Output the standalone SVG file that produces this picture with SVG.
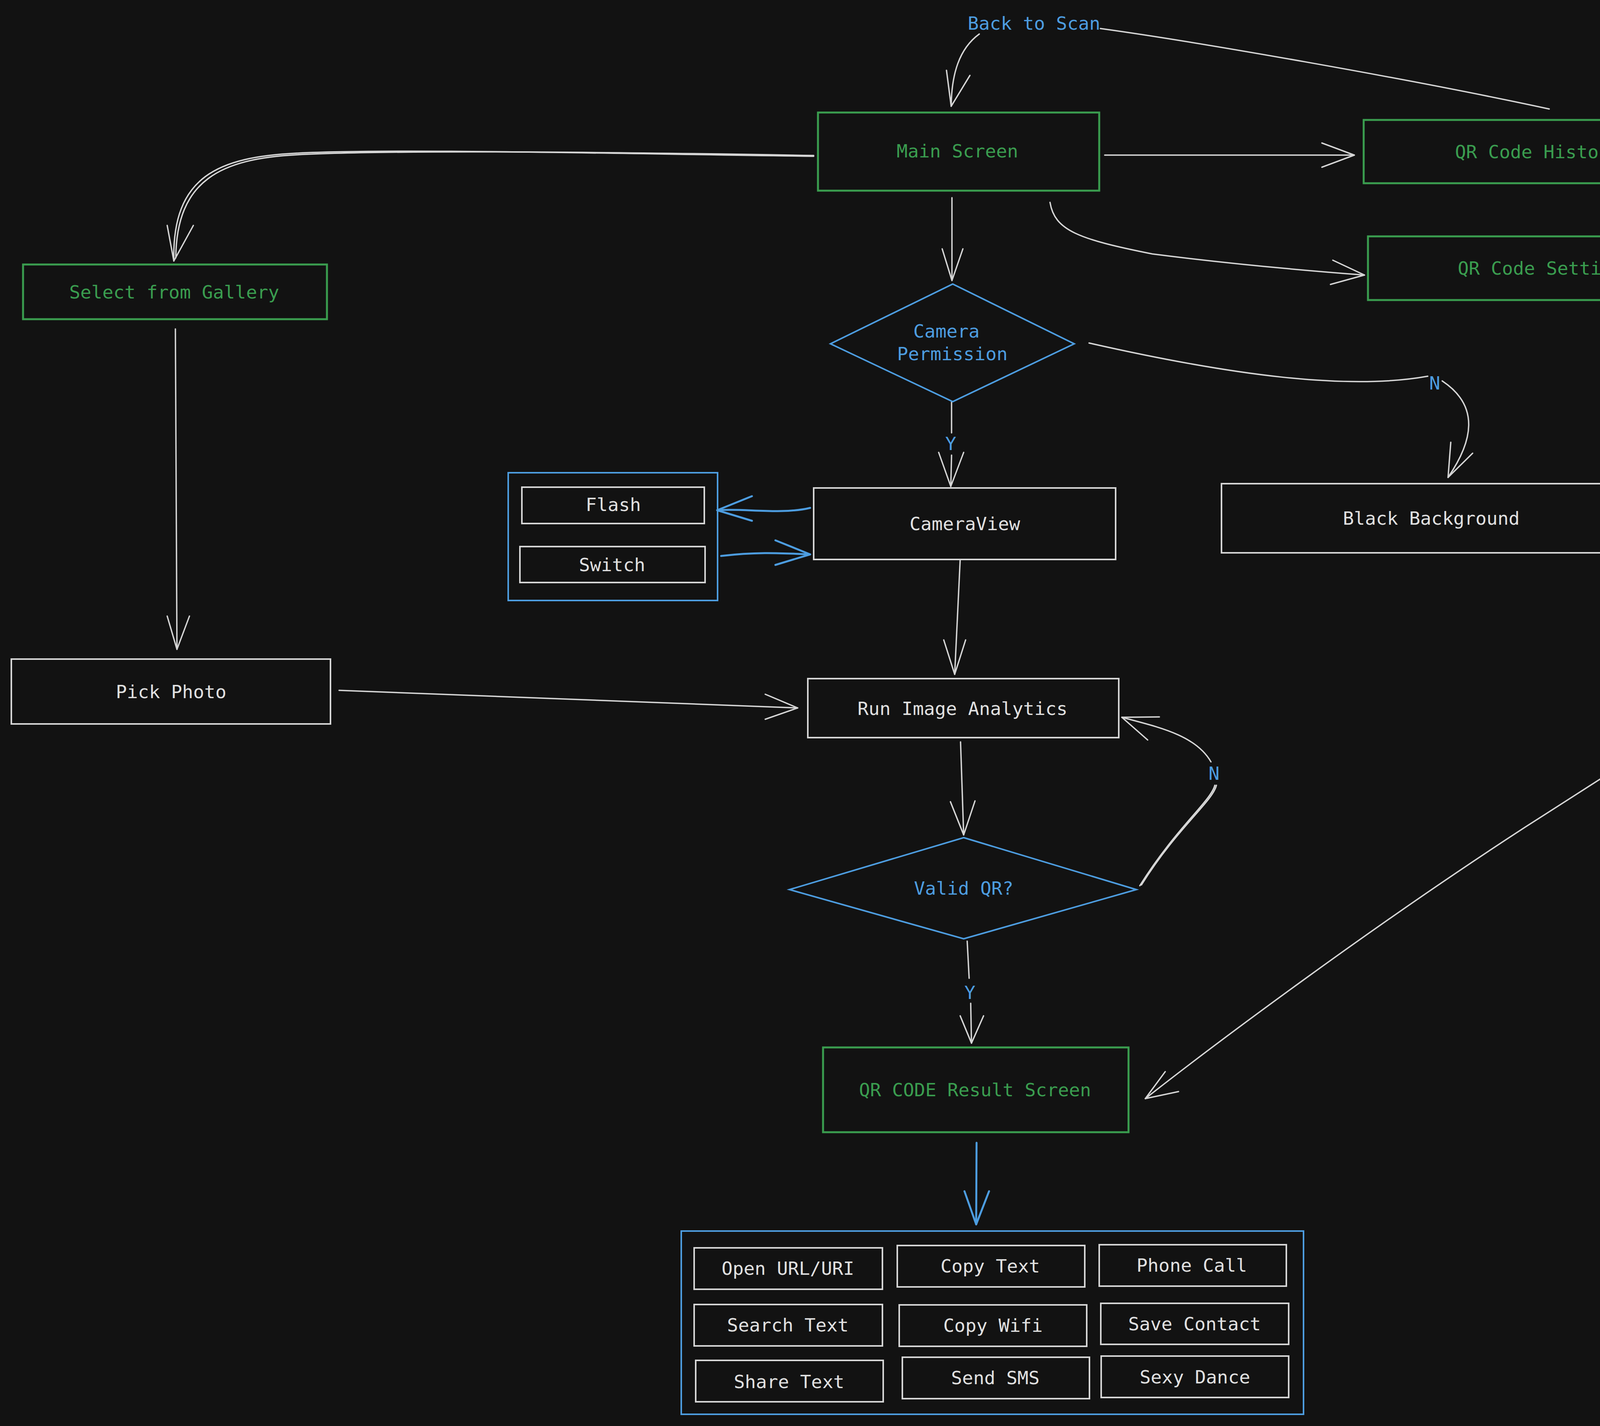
<svg xmlns="http://www.w3.org/2000/svg" width="5546" height="3650" viewBox="0 0 5546 3650">
<defs>
<style>
.g{fill:none;stroke:#3a9d4f;stroke-width:5}
.b{fill:none;stroke:#4d9de0;stroke-width:4}
.w{fill:none;stroke:#d6d6d6;stroke-width:4}
.c{fill:none;stroke:#d6d6d6;stroke-width:3.5;stroke-linecap:round;stroke-linejoin:round}
.cb{fill:none;stroke:#4d9de0;stroke-width:5;stroke-linecap:round;stroke-linejoin:round}
text{font-family:"DejaVu Sans Mono","Liberation Mono",monospace;font-size:47px;text-anchor:middle}
.tg{fill:#3a9d4f}
.tb{fill:#4d9de0}
.tw{fill:#e0e0e0}
</style>
</defs>
<rect x="0" y="0" width="5546" height="3650" fill="#121212"/>

<g id="connectors">
  <!-- QR Code History -> Main Screen (Back to Scan) -->
  <path class="c" d="M3966,279 C3600,200 3050,105 2817,73"/>
  <path class="c" d="M2507,87 C2455,125 2436,190 2435,272"/>
  <path class="c" d="M2423,180 L2435,272 L2483,193"/>
  <text id="lbl-back" class="tb" x="2647" y="76">Back to Scan</text>

  <!-- Main Screen -> QR Code History -->
  <path class="c" d="M2828,397 L3467,397"/>
  <path class="c" d="M3384,366 L3467,397 L3384,428"/>

  <!-- Main Screen -> QR Code Setting -->
  <path class="c" d="M2688,518 C2700,590 2760,612 2950,650 Q3200,682 3493,704"/>
  <path class="c" d="M3412,666 L3493,704 L3406,728"/>

  <!-- Main Screen -> Select from Gallery -->
  <path class="c" d="M2083,400 C1500,392 1000,380 760,392 C560,402 440,450 445,668"/>
  <path class="c" d="M2083,398 C1500,388 1000,384 762,396 C566,406 452,460 450,660"/>
  <path class="c" d="M428,577 L445,668 L495,577"/>

  <!-- Main Screen -> Camera Permission -->
  <path class="c" d="M2437,506 L2437,718"/>
  <path class="c" d="M2412,637 L2437,718 L2465,637"/>

  <!-- Camera Permission -> CameraView (Y) -->
  <path class="c" d="M2436,1029 L2436,1108"/>
  <path class="c" d="M2436,1165 L2434,1245"/>
  <path class="c" d="M2403,1158 L2434,1245 L2467,1158"/>
  <text class="tb" x="2434" y="1152">Y</text>

  <!-- Camera Permission -> Black Background (N) -->
  <path class="c" d="M2788,878 C3150,960 3450,1000 3655,963"/>
  <path class="c" d="M3692,975 C3790,1040 3770,1130 3707,1222"/>
  <path class="c" d="M3714,1132 L3707,1222 L3770,1160"/>
  <text class="tb" x="3673" y="997">N</text>

  <!-- CameraView -> Flash -->
  <path class="cb" d="M2074,1300 C2000,1318 1900,1300 1836,1306"/>
  <path class="cb" d="M1925,1270 L1836,1306 L1925,1333"/>

  <!-- Switch -> CameraView -->
  <path class="cb" d="M1846,1423 C1940,1412 2000,1416 2074,1419"/>
  <path class="cb" d="M1985,1383 L2074,1419 L1985,1446"/>

  <!-- Select from Gallery -> Pick Photo -->
  <path class="c" d="M449,842 L453,1662"/>
  <path class="c" d="M428,1577 L453,1662 L485,1577"/>

  <!-- CameraView -> Run Image Analytics -->
  <path class="c" d="M2458,1434 L2444,1726"/>
  <path class="c" d="M2416,1638 L2444,1726 L2472,1638"/>

  <!-- Pick Photo -> Run Image Analytics -->
  <path class="c" d="M868,1767 L2042,1812"/>
  <path class="c" d="M1959,1777 L2042,1812 L1959,1841"/>

  <!-- Run Image Analytics -> Valid QR? -->
  <path class="c" d="M2459,1899 L2467,2137"/>
  <path class="c" d="M2433,2052 L2467,2137 L2496,2050"/>

  <!-- Valid QR? -> Run Image Analytics (N) -->
  <path class="c" d="M2918,2267 C3010,2120 3100,2050 3110,2010"/>
  <path class="c" d="M2922,2265 C3014,2118 3104,2052 3114,2010"/>
  <path class="c" d="M3100,1950 C3060,1880 2960,1860 2872,1836"/>
  <path class="c" d="M2968,1835 L2872,1836 L2938,1894"/>
  <text class="tb" x="3108" y="1996">N</text>

  <!-- Valid QR? -> QR CODE Result Screen (Y) -->
  <path class="c" d="M2476,2409 L2481,2504"/>
  <path class="c" d="M2485,2568 L2487,2670"/>
  <path class="c" d="M2458,2600 L2487,2670 L2518,2600"/>
  <text class="tb" x="2483" y="2557">Y</text>

  <!-- QR Code History -> QR CODE Result Screen -->
  <path class="c" d="M4432,378 C4800,600 5200,820 5205,1040 Q5205,1100 5176,1153"/>
  <path class="c" d="M5140,1212 C4950,1450 4400,1800 3900,2120 C3500,2380 3100,2680 2932,2812"/>
  <path class="c" d="M2983,2743 L2932,2812 L3017,2794"/>
  <text id="lbl-select" class="tb" x="5137" y="1199">Select QR Code History Item</text>

  <!-- QR CODE Result Screen -> actions -->
  <path class="cb" d="M2500,2925 L2499,3134"/>
  <path class="cb" d="M2469,3049 L2499,3134 L2532,3049"/>
</g>

<g id="main-screen">
  <rect class="g" x="2094" y="288" width="720" height="200"/>
  <text class="tg" x="2451" y="403">Main Screen</text>
</g>
<g id="qr-code-history">
  <rect class="g" x="3491" y="307" width="892" height="162"/>
  <text class="tg" x="3937" y="405">QR Code History</text>
</g>
<g id="qr-code-setting">
  <rect class="g" x="3502" y="605" width="888" height="163"/>
  <text class="tg" x="3944" y="703">QR Code Setting</text>
</g>
<g id="select-from-gallery">
  <rect class="g" x="59" y="677" width="778" height="140"/>
  <text class="tg" x="446" y="764">Select from Gallery</text>
</g>
<g id="camera-permission">
  <polygon class="b" points="2439,727 2750,880 2439,1028 2126,880"/>
  <text class="tb" x="2423" y="864">Camera</text>
  <text class="tb" x="2438" y="922">Permission</text>
</g>
<g id="cameraview">
  <rect class="w" x="2083" y="1249" width="773" height="183"/>
  <text class="tw" x="2470" y="1357">CameraView</text>
</g>
<g id="camera-controls">
  <rect class="b" x="1301" y="1210" width="536" height="327"/>
  <g id="flash">
    <rect class="w" x="1336" y="1247" width="467" height="93"/>
    <text class="tw" x="1570" y="1308">Flash</text>
  </g>
  <g id="switch">
    <rect class="w" x="1331" y="1399" width="474" height="92"/>
    <text class="tw" x="1567" y="1462">Switch</text>
  </g>
</g>
<g id="black-background">
  <rect class="w" x="3127" y="1238" width="1075" height="177"/>
  <text class="tw" x="3664" y="1343">Black Background</text>
</g>
<g id="pick-photo">
  <rect class="w" x="29" y="1687" width="817" height="166"/>
  <text class="tw" x="438" y="1787">Pick Photo</text>
</g>
<g id="run-image-analytics">
  <rect class="w" x="2068" y="1737" width="796" height="151"/>
  <text class="tw" x="2464" y="1830">Run Image Analytics</text>
</g>
<g id="valid-qr">
  <polygon class="b" points="2467,2144 2909,2277 2467,2403 2021,2277"/>
  <text class="tb" x="2467" y="2290">Valid QR?</text>
</g>
<g id="qr-code-result-screen">
  <rect class="g" x="2107" y="2681" width="782" height="217"/>
  <text class="tg" x="2496" y="2806">QR CODE Result Screen</text>
</g>
<g id="actions">
  <rect class="b" x="1744" y="3151" width="1593" height="469"/>
  <g id="open-url"><rect class="w" x="1777" y="3194" width="482" height="106"/><text class="tw" x="2017" y="3263">Open URL/URI</text></g>
  <g id="copy-text"><rect class="w" x="2297" y="3188" width="480" height="106"/><text class="tw" x="2535" y="3257">Copy Text</text></g>
  <g id="phone-call"><rect class="w" x="2814" y="3186" width="479" height="106"/><text class="tw" x="3051" y="3255">Phone Call</text></g>
  <g id="search-text"><rect class="w" x="1777" y="3339" width="482" height="106"/><text class="tw" x="2017" y="3408">Search Text</text></g>
  <g id="copy-wifi"><rect class="w" x="2302" y="3340" width="480" height="106"/><text class="tw" x="2542" y="3409">Copy Wifi</text></g>
  <g id="save-contact"><rect class="w" x="2818" y="3336" width="481" height="105"/><text class="tw" x="3058" y="3405">Save Contact</text></g>
  <g id="share-text"><rect class="w" x="1781" y="3482" width="480" height="106"/><text class="tw" x="2020" y="3553">Share Text</text></g>
  <g id="send-sms"><rect class="w" x="2310" y="3474" width="479" height="106"/><text class="tw" x="2548" y="3543">Send SMS</text></g>
  <g id="sexy-dance"><rect class="w" x="2819" y="3471" width="480" height="106"/><text class="tw" x="3059" y="3541">Sexy Dance</text></g>
</g>
</svg>
